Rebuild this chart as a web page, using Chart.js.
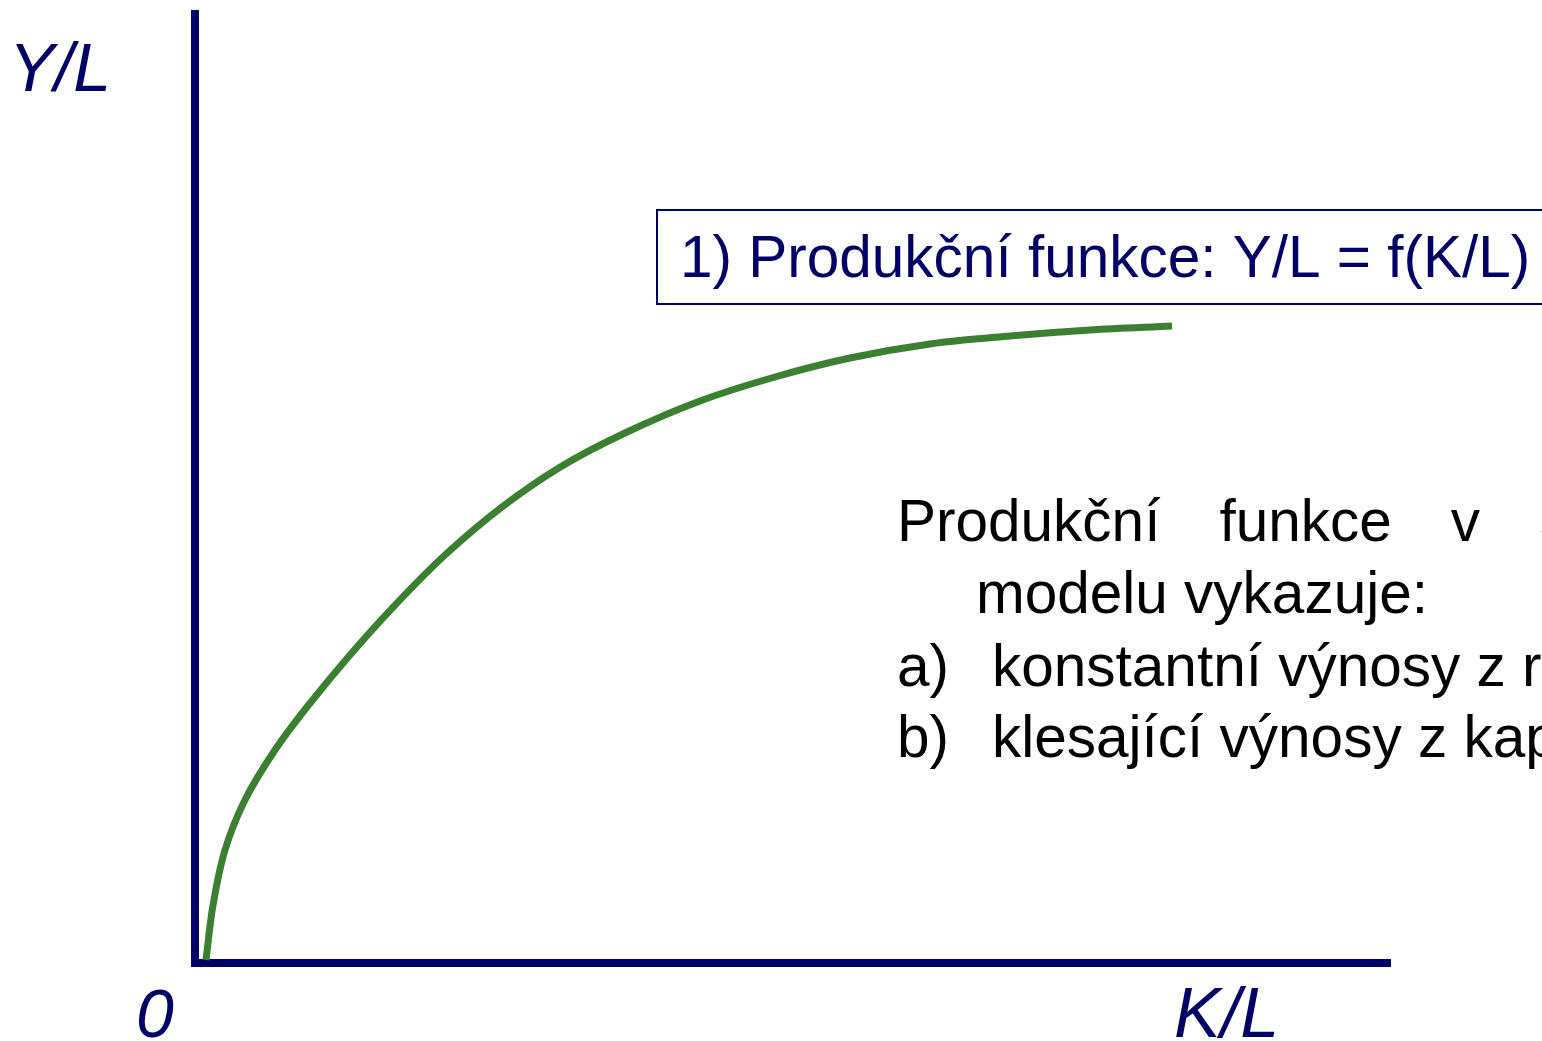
<!DOCTYPE html>
<html>
<head>
<meta charset="utf-8">
<title>Produkční funkce</title>
<script src="https://cdn.jsdelivr.net/npm/chart.js@4/dist/chart.umd.min.js"></script>
<style>
    html, body { margin: 0; padding: 0; background: #fff; overflow: hidden; }
    #wrap { position: relative; width: 1542px; height: 1041px; }
</style>
</head>
<body>
<div id="wrap"><canvas id="prodChart" width="1542" height="1041"></canvas></div>
<script>
// Capital per worker (K/L) and output per worker (Y/L), arbitrary units
const kl = [0.92, 1.51, 2.51, 4.18, 6.69, 9.37, 12.97, 16.74, 20.92, 25.69, 30.71, 35.98, 42.26, 48.54, 54.81, 61.51, 68.20, 74.90, 81.76];
const yl = [0.32, 6.11, 11.91, 17.18, 22.44, 26.98, 32.46, 37.72, 42.99, 48.05, 52.37, 55.85, 59.22, 61.75, 63.75, 65.23, 66.07, 66.70, 67.12];

const axisMax = 100;
const navy = '#000066';
const green = '#3b7f31';

const boxText = '1) Produkční funkce: Y/L = f(K/L)';
const introWords = ['Produkční', 'funkce', 'v', 'Solowově'];
const introRest = 'modelu vykazuje:';
const listItems = [
    ['a)', 'konstantní výnosy z rozsahu'],
    ['b)', 'klesající výnosy z kapitálu']
];

// Axis labels, the equation box and the side note
const textPlugin = {
    id: 'slideText',
    afterDraw(chart) {
        const ctx = chart.ctx;
        const area = chart.chartArea;
        ctx.save();

        // axis names
        ctx.fillStyle = navy;
        ctx.font = 'italic 68px "Liberation Sans", Arial, sans-serif';
        ctx.textBaseline = 'alphabetic';
        ctx.textAlign = 'right';
        ctx.fillText('Y/L', area.left - 84, area.top + 77);
        ctx.textAlign = 'center';
        ctx.fillText('0', area.left - 40, area.bottom + 74);
        ctx.textAlign = 'left';
        ctx.font = 'italic 70px "Liberation Sans", Arial, sans-serif';
        ctx.fillText('K/L', area.right - 216, area.bottom + 74);

        // equation box
        ctx.strokeStyle = navy;
        ctx.lineWidth = 2;
        ctx.strokeRect(657, 210, 1000, 94);
        ctx.font = '58.5px "Liberation Sans", Arial, sans-serif';
        ctx.fillText(boxText, 680, 277);

        // note on the right, first line justified
        ctx.fillStyle = '#000';
        let x = 897;
        introWords.forEach(w => {
            ctx.fillText(w, x, 541);
            x += ctx.measureText(w).width + 59;
        });
        ctx.fillText(introRest, 976, 613);
        listItems.forEach((item, i) => {
            const y = 686 + i * 71;
            ctx.fillText(item[0], 897, y);
            ctx.fillText(item[1], 992, y);
        });

        ctx.restore();
    }
};

document.addEventListener('DOMContentLoaded', function() {
    const ctx = document.getElementById('prodChart');
    new Chart(ctx, {
        type: 'line',
        data: {
            datasets: [{
                data: kl.map((k, i) => ({ x: k, y: yl[i] })),
                borderColor: green,
                borderWidth: 7,
                pointRadius: 0,
                fill: false,
                tension: 0.35
            }]
        },
        options: {
            responsive: false,
            animation: false,
            layout: { padding: { left: 195, right: 152, top: 14, bottom: 78 } },
            plugins: {
                legend: { display: false },
                tooltip: { enabled: false }
            },
            scales: {
                x: {
                    type: 'linear',
                    min: 0,
                    max: axisMax,
                    ticks: { display: false },
                    grid: { display: false, drawTicks: false },
                    border: { display: true, color: navy, width: 8 }
                },
                y: {
                    min: 0,
                    max: axisMax,
                    ticks: { display: false },
                    grid: { display: false, drawTicks: false },
                    border: { display: true, color: navy, width: 8 }
                }
            }
        },
        plugins: [textPlugin]
    });
});
</script>
</body>
</html>
